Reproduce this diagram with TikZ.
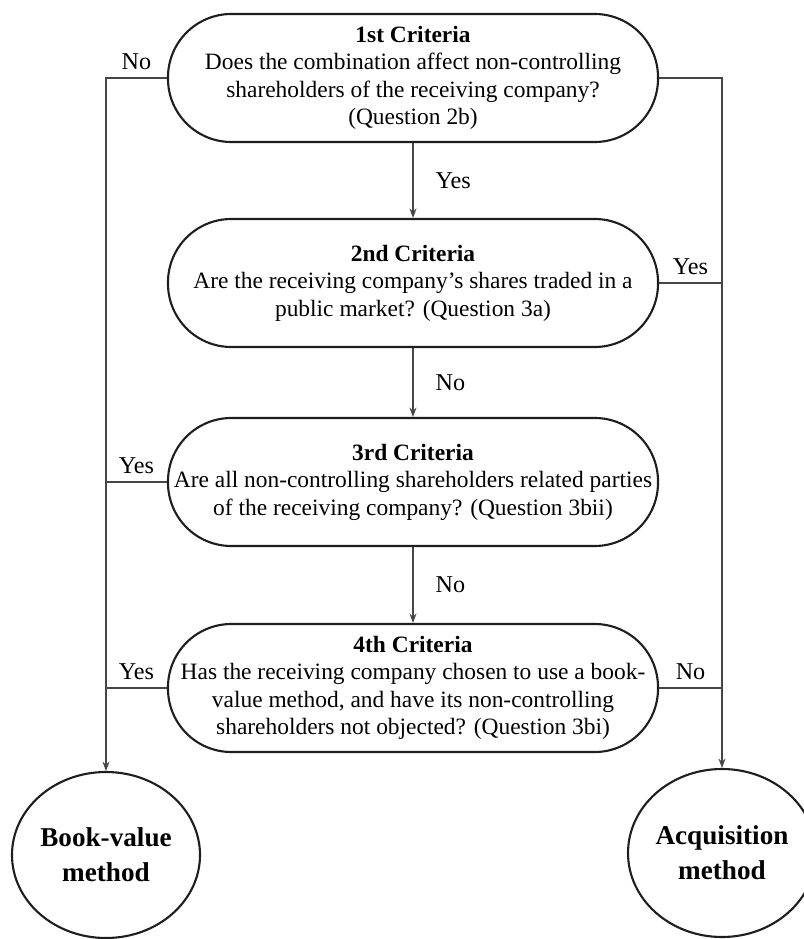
\documentclass[tikz,border=0pt]{standalone}
\usepackage{fontspec}
\setmainfont{Liberation Serif}
\usetikzlibrary{shapes.geometric,arrows.meta}
\definecolor{critline}{RGB}{30,30,30}
\definecolor{linkgray}{RGB}{70,70,70}

\begin{document}
\begin{tikzpicture}[x=0.015cm, y=-0.015cm,
    critbox/.style={draw=critline, line width=0.9pt, rectangle, rounded corners=0.95cm,
                    minimum width=7.35cm, minimum height=1.92cm,
                    inner xsep=0pt, align=center, font=\fontsize{10}{11.7}\selectfont},
    method/.style={draw=critline, line width=0.9pt, ellipse, inner sep=0pt,
                   align=center, font=\fontsize{11.6}{15}\selectfont\bfseries},
    link/.style={draw=linkgray, line width=0.6pt},
    arrow/.style={link, -{Stealth[length=4pt,width=3pt]}},
    lab/.style={font=\fontsize{10.3}{12}\selectfont}
]
\useasboundingbox (0,0) rectangle (803,939);

\node[critbox] (C1) at (413,78) {\textbf{1st Criteria}\\Does the combination affect non-controlling\\shareholders of the receiving company?\\(Question 2b)};
\node[critbox] (C2) at (413,283) {\textbf{2nd Criteria}\\Are the receiving company’s shares traded in a\\public market? (Question 3a)};
\node[critbox] (C3) at (413,482) {\textbf{3rd Criteria}\\Are all non-controlling shareholders related parties\\of the receiving company? (Question 3bii)};
\node[critbox] (C4) at (413,688) {\textbf{4th Criteria}\\Has the receiving company chosen to use a book-\\value method, and have its non-controlling\\shareholders not objected? (Question 3bi)};

\node[method, minimum width=2.82cm, minimum height=2.49cm] (BV) at (106,855) {Book-value\\method};
\node[method, minimum width=2.7cm, minimum height=2.52cm] (AQ) at (722,853) {Acquisition\\method};

% down the middle
\draw[arrow] (C1) -- node[lab, right=6pt] {Yes} (C2);
\draw[arrow] (C2) -- node[lab, right=6pt] {No} (C3);
\draw[arrow] (C3) -- node[lab, right=6pt] {No} (C4);

% book-value side
\draw[arrow] (C1.west) -| node[lab, pos=0.25, above] {No} (BV.north);
\draw[link] (C3.west) -- node[lab, above] {Yes} (C3.west -| BV.north);
\draw[link] (C4.west) -- node[lab, above] {Yes} (C4.west -| BV.north);

% acquisition side
\draw[arrow] (C1.east) -| (AQ.north);
\draw[link] (C2.east) -- node[lab, above] {Yes} (C2.east -| AQ.north);
\draw[link] (C4.east) -- node[lab, above] {No} (C4.east -| AQ.north);
\end{tikzpicture}
\end{document}
